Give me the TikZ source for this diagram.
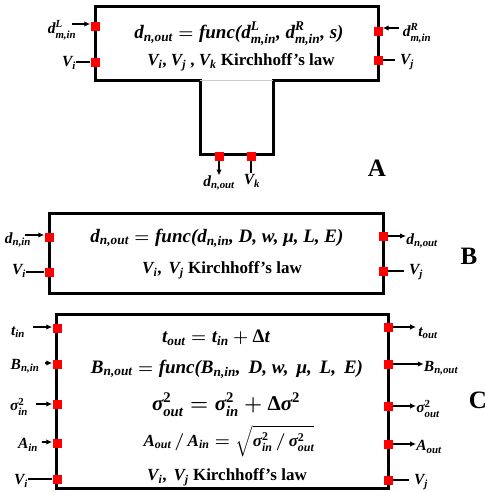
\documentclass[tikz,border=0pt]{standalone}
\usepackage{amsmath}
\usepackage{fontspec}
\setmainfont{Liberation Serif}
\usetikzlibrary{arrows.meta,positioning}
\newcommand{\bi}[1]{\text{\bfseries\itshape #1}}
\newcommand{\bu}[1]{\text{\bfseries #1}}
\begin{document}
\begin{tikzpicture}[
  x=1pt, y=-1pt,
  port/.style={fill=red, minimum size=9pt, inner sep=0pt},
  lbl/.style={font=\fontsize{15.5}{18}\selectfont\boldmath\bfseries, inner sep=0pt},
  eq/.style={font=\fontsize{19}{22}\selectfont\boldmath\bfseries, inner sep=0pt},
  law/.style={font=\fontsize{17}{20}\selectfont\boldmath\bfseries, inner sep=0pt},
  tag/.style={font=\fontsize{25}{28}\selectfont\bfseries, inner sep=0pt},
  arr/.style={-{Latex[length=6pt,width=5.5pt]}, line width=2pt},
  wire/.style={line width=1.6pt},
  frame/.style={draw, line width=3pt, inner sep=0pt},
]
  \useasboundingbox (0,0) rectangle (487,493);

  % ---- A: junction
  \draw[line width=3pt] (200,80) -- (95,80) -- (95,6) -- (378,6) -- (378,80) -- (273,80)
    (273,78.5) -- (273,154) -- (200,154) -- (200,78.5);
  \draw[gray!40, thin] (200,80) -- (273,80);
  \node[eq] (eqA) at (239,34) {$\bi{d}_{\bi{n,out}} = \bi{func(}\bi{d}^{\bi{L}}_{\bi{m,in}}\bi{, }\bi{d}^{\bi{R}}_{\bi{m,in}}\bi{, s)}$};
  \node[law] (lawA) at (241,62) {$\bi{V}_{\bi{i}}$, $\bi{V}_{\bi{j}}$ , $\bi{V}_{\bi{k}}$ Kirchhoff's law};
  \node[port] (pAL1) at (95,26) {};
  \node[port] (pAL2) at (95,62) {};
  \node[port] (pAR1) at (378,31) {};
  \node[port] (pAR2) at (378,60) {};
  \node[port] (pAB1) at (219,156) {};
  \node[port] (pAB2) at (251,156) {};
  \node[lbl] (dLin) at (62,30) {$\bi{d}^{\bi{L}}_{\bi{m,in}}$};
  \node[lbl] (ViA) at (69,63) {$\bi{V}_{\bi{i}}$};
  \node[lbl] (dRin) at (417,33) {$\bi{d}^{\bi{R}}_{\bi{m,in}}$};
  \node[lbl] (VjA) at (407,62) {$\bi{V}_{\bi{j}}$};
  \node[lbl] (doutA) at (219,183) {$\bi{d}_{\bi{n,out}}$};
  \node[lbl] (VkA) at (252,181) {$\bi{V}_{\bi{k}}$};
  \draw[arr] (72,24) -- (pAL1.west |- 0,24);
  \draw[wire] (ViA.east |- pAL2) -- (pAL2.west);
  \draw[arr] (399,28) -- (pAR1.east |- 0,28);
  \draw[wire] ([xshift=-5pt]VjA.west |- pAR2) -- (pAR2.east);
  \draw[arr] (pAB1.south) -- (doutA.north -| pAB1);
  \draw[wire] (pAB2.south) -- ([yshift=2pt]VkA.north -| pAB2);
  \node[tag] (tagA) at (377,168) {A};

  % ---- B: segment
  \node[frame, minimum width=334pt, minimum height=80pt] (boxB) at (216,253) {};
  \node[eq] (eqB) at (217,238) {$\bi{d}_{\bi{n,out}} = \bi{func(}\bi{d}_{\bi{n,in}}\bi{, D, w, }\bi{μ}\bi{, L, E)}$};
  \node[law] (lawB) at (222,270) {$\bi{V}_{\bi{i}}$, \,$\bi{V}_{\bi{j}}$ Kirchhoff's law};
  \node[port] (pBL1) at (49,237) {};
  \node[port] (pBL2) at (49,272) {};
  \node[port] (pBR1) at (383,236) {};
  \node[port] (pBR2) at (383,271) {};
  \node[lbl] (dinB) at (18,240) {$\bi{d}_{\bi{n,in}}$};
  \node[lbl] (ViB) at (19,271) {$\bi{V}_{\bi{i}}$};
  \node[lbl] (doutB) at (422,241) {$\bi{d}_{\bi{n,out}}$};
  \node[lbl] (VjB) at (416,272) {$\bi{V}_{\bi{j}}$};
  \draw[arr] (25,235) -- (pBL1.west |- 0,235);
  \draw[wire] (ViB.east |- pBL2) -- (pBL2.west);
  \draw[arr] (pBR1.east) -- (doutB.west |- pBR1);
  \draw[wire] (pBR2.east) -- ([xshift=-5pt]VjB.west |- pBR2);
  \node[tag] (tagB) at (469,256) {B};

  % ---- C: segment with bolus
  \node[frame, minimum width=332pt, minimum height=174pt] (boxC) at (222,401) {};
  \node[eq] (eqC1) at (216,338) {$\bi{t}_{\bi{out}} = \bi{t}_{\bi{in}} + \bu{Δ}\bi{t}$};
  \node[eq] (eqC2) at (227,369) {$\bi{B}_{\bi{n,out}} = \bi{func(}\bi{B}_{\bi{n,in}}\bi{, \,D, w, \,}\bi{μ}\bi{, \,L, \,E)}$};
  \node[eq, font=\fontsize{21}{24}\selectfont\boldmath\bfseries] (eqC3) at (226,405) {$\bi{σ}^{\bu{2}}_{\bi{out}} = \bi{σ}^{\bu{2}}_{\bi{in}} + \bu{Δ}\bi{σ}^{\bu{2}}$};
  \node[law] (eqC4) at (229,441) {$\bi{A}_{\bi{out}}\,/\,\bi{A}_{\bi{in}} = \sqrt{\bi{σ}^{\bu{2}}_{\bi{in}}\,/\,\bi{σ}^{\bu{2}}_{\bi{out}}}$};
  \node[law] (lawC) at (227,477) {$\bi{V}_{\bi{i}}$, \,$\bi{V}_{\bi{j}}$ Kirchhoff's law};
  \foreach \i/\y in {1/328, 2/364, 3/404, 4/443, 5/479}
    \node[port] (pCL\i) at (57,\y) {};
  \foreach \i/\y in {1/327, 2/364, 3/406, 4/444, 5/480}
    \node[port] (pCR\i) at (388,\y) {};
  \node[lbl] (tin) at (18,332) {$\bi{t}_{\bi{in}}$};
  \node[lbl] (Bin) at (25,366) {$\bi{B}_{\bi{n,in}}$};
  \node[lbl] (sin) at (19,407) {$\bi{σ}^{\bu{2}}_{\bi{in}}$};
  \node[lbl] (Ain) at (28,445) {$\bi{A}_{\bi{in}}$};
  \node[lbl] (ViC) at (21,481) {$\bi{V}_{\bi{i}}$};
  \node[lbl] (tout) at (428,333) {$\bi{t}_{\bi{out}}$};
  \node[lbl] (Bout) at (441,368) {$\bi{B}_{\bi{n,out}}$};
  \node[lbl] (sout) at (428,409) {$\bi{σ}^{\bu{2}}_{\bi{out}}$};
  \node[lbl] (Aout) at (429,447) {$\bi{A}_{\bi{out}}$};
  \node[lbl] (VjC) at (421,482) {$\bi{V}_{\bi{j}}$};
  \draw[arr] (33,327) -- (pCL1.west |- 0,327);
  \draw[arr] (45,363) -- (pCL2.west |- 0,363);
  \draw[arr] (36,404) -- (pCL3.west);
  \draw[arr] (42,442) -- (pCL4.west |- 0,442);
  \draw[wire] (ViC.east |- pCL5) -- (pCL5.west);
  \draw[arr] (pCR1.east) -- ([xshift=-2pt]tout.west |- pCR1);
  \draw[arr] (pCR2.east) -- (Bout.west |- pCR2);
  \draw[arr] (pCR3.east) -- (sout.west |- pCR3);
  \draw[arr] (pCR4.east) -- (Aout.west |- pCR4);
  \draw[wire] (pCR5.east) -- ([xshift=-5pt]VjC.west |- pCR5);
  \node[tag] (tagC) at (478,400) {C};
\end{tikzpicture}
\end{document}
